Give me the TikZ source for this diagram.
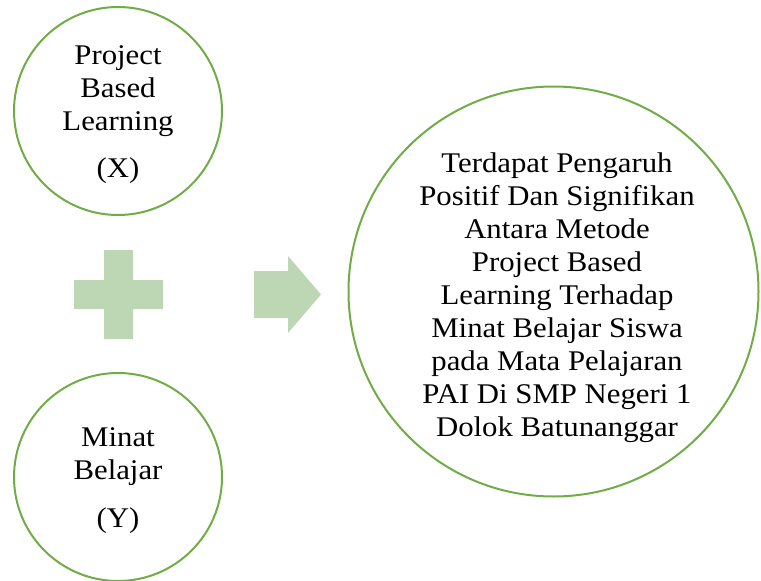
\documentclass[tikz,border=0pt]{standalone}
\usepackage{fontspec}
\setmainfont{Liberation Serif}[FakeStretch=1.08]
\definecolor{ringgreen}{RGB}{112,173,71}
\definecolor{softgreen}{RGB}{189,214,179}
\begin{document}
\begin{tikzpicture}[x=1pt,y=-1pt,
  ring/.style={circle, draw=ringgreen, line width=2pt, fill=white, inner sep=0pt},
  label/.style={align=center, inner sep=0pt, font=\fontsize{28.5}{33}\selectfont},
  shapefill/.style={fill=softgreen, draw=none}]
\useasboundingbox (0,0) rectangle (761,581);
% circles
\node[ring, minimum size=208] (px) at (118,111) {};
\node[ring, minimum size=208] (py) at (118,477) {};
\node[ring, minimum size=410] (res) at (553.5,291.5) {};
% texts
\node[label] (tx) at (118,114.8) {Project\\Based\\Learning\\[14pt](X)};
\node[label] (ty) at (118,480.3) {Minat\\Belajar\\[15pt](Y)};
\node[label] (tr) at (557,297.2) {Terdapat Pengaruh\\Positif Dan Signifikan\\Antara Metode\\Project Based\\Learning Terhadap\\Minat Belajar Siswa\\pada Mata Pelajaran\\PAI Di SMP Negeri 1\\Dolok Batunanggar};
% plus sign
\fill[shapefill] (104,250) -- (133,250) -- (133,280) -- (163,280) -- (163,309) -- (133,309)
  -- (133,339) -- (104,339) -- (104,309) -- (74,309) -- (74,280) -- (104,280) -- cycle;
% arrow
\fill[shapefill] (254,271) -- (288,271) -- (288,256) -- (321,294.5) -- (288,333) -- (288,318) -- (254,318) -- cycle;
\end{tikzpicture}
\end{document}
